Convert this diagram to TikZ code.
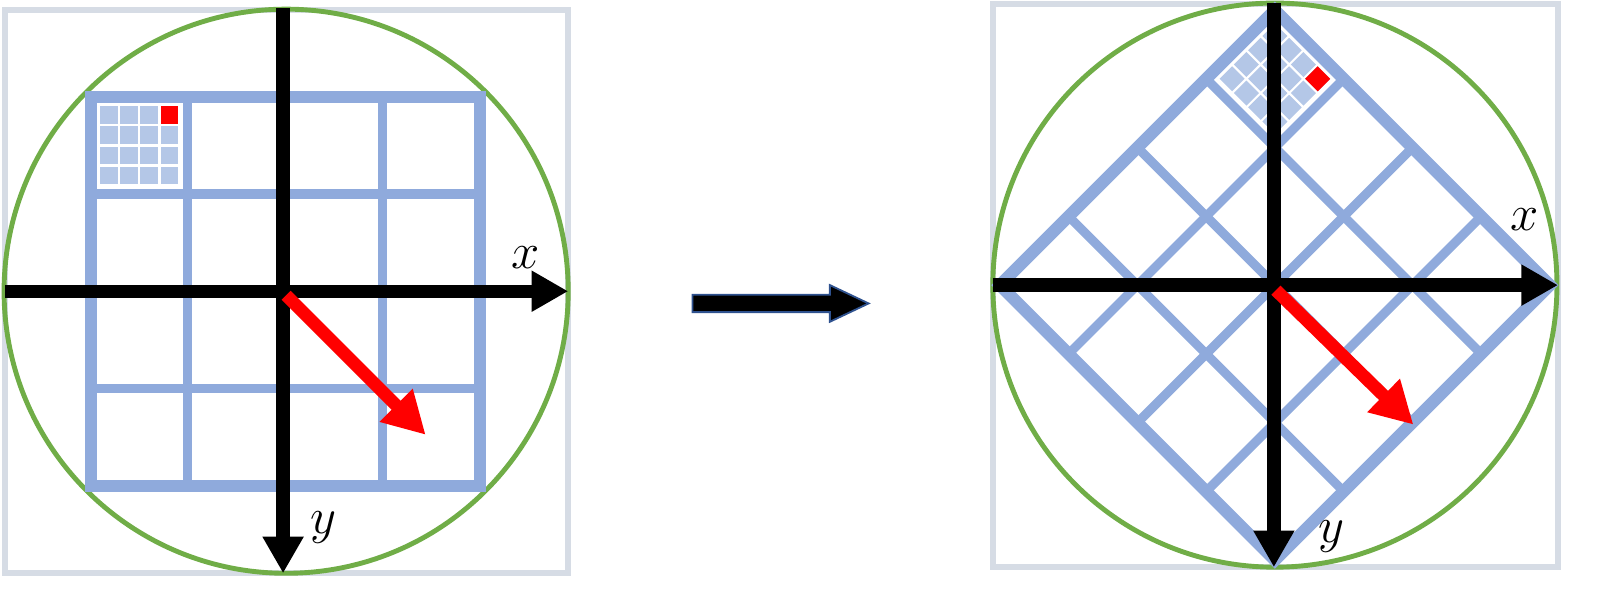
\documentclass[tikz,border=0pt]{standalone}
\usetikzlibrary{arrows.meta}
\definecolor{framegray}{HTML}{D6DCE5}
\definecolor{circgreen}{HTML}{70AD47}
\definecolor{gridblue}{HTML}{8FAADC}
\definecolor{cellblue}{HTML}{B4C7E7}
\definecolor{arrowedge}{HTML}{2F528F}
\tikzset{
  frame/.style={draw=framegray,line width=3pt},
  ring/.style={draw=circgreen,line width=2.4pt},
  gridouter/.style={draw=gridblue,line width=6pt},
  gridinner/.style={draw=gridblue,line width=4.5pt},
  axisarrow/.style={draw=black,line width=6.5pt,-{Triangle[length=18pt,width=19pt]}},
  redarrow/.style={draw=red,line width=6.3pt,-{Triangle[length=20.5pt,width=21.5pt]}},
  lbl/.style={inner sep=0pt,font=\fontsize{29}{30}\selectfont},
  blockarrow/.style={fill=black,draw=arrowedge,line width=0.9pt},
  gridpic/.pic={
    \foreach \i in {0,...,3}{\foreach \j in {0,...,3}{
      \pgfmathsetmacro\xa{-181.65+\i*19.8}
      \pgfmathsetmacro\ya{-181.65+\j*19.8}
      \fill[cellblue] (\xa,\ya) -- ++(17.4,0) -- ++(0,17.4) -- ++(-17.4,0) -- cycle;
    }}
    \fill[red] (-122.25,-181.65) -- ++(17.4,0) -- ++(0,17.4) -- ++(-17.4,0) -- cycle;
    \foreach \t in {-95.5,0,95.5}{
      \draw[gridinner] (\t,-191) -- (\t,191);
      \draw[gridinner] (-191,\t) -- (191,\t);
    }
    \draw[gridouter] (-191,-191) -- (191,-191) -- (191,191) -- (-191,191) -- cycle;
  }
}
\begin{document}
\begin{tikzpicture}[x=0.5pt,y=-0.5pt]
\useasboundingbox (0,0) rectangle (1569.3,603);
% ---------- left panel ----------
\draw[frame] (5,10) rectangle (558,563);
\draw[ring] (281,286) circle[radius=277];
\pic at (280,286) {gridpic};
\coordinate (LxS) at (5,286);
\coordinate (LxE) at (558,286);
\coordinate (LyS) at (278,8);
\coordinate (LyE) at (278,563);
\coordinate (LrS) at (281,290);
\coordinate (LrE) at (418,427);
\draw[axisarrow] (LxS) -- (LxE);
\draw[axisarrow] (LyS) -- (LyE);
\draw[redarrow] (LrS) -- (LrE);
\node[lbl] (lx) at (516,253) {$x$};
\node[lbl] (ly) at (318,518) {$y$};
% ---------- middle block arrow ----------
\draw[blockarrow] (680,289.5) -- (815,289.5) -- (815,280) -- (853,298) -- (815,316) -- (815,306.5) -- (680,306.5) -- cycle;
% ---------- right panel ----------
\draw[frame] (975,4) rectangle (1530,557);
\draw[ring] (1252,280) circle[radius=277];
\pic[rotate=-45] at (1252,280) {gridpic};
\coordinate (RxS) at (975,280);
\coordinate (RxE) at (1530,280);
\coordinate (RyS) at (1251,3);
\coordinate (RyE) at (1251,557);
\coordinate (RrS) at (1253,285);
\coordinate (RrE) at (1388,417);
\draw[axisarrow] (RxS) -- (RxE);
\draw[axisarrow] (RyS) -- (RyE);
\draw[redarrow] (RrS) -- (RrE);
\node[lbl] (rx) at (1497,216) {$x$};
\node[lbl] (ry) at (1308,527) {$y$};
\end{tikzpicture}
\end{document}
